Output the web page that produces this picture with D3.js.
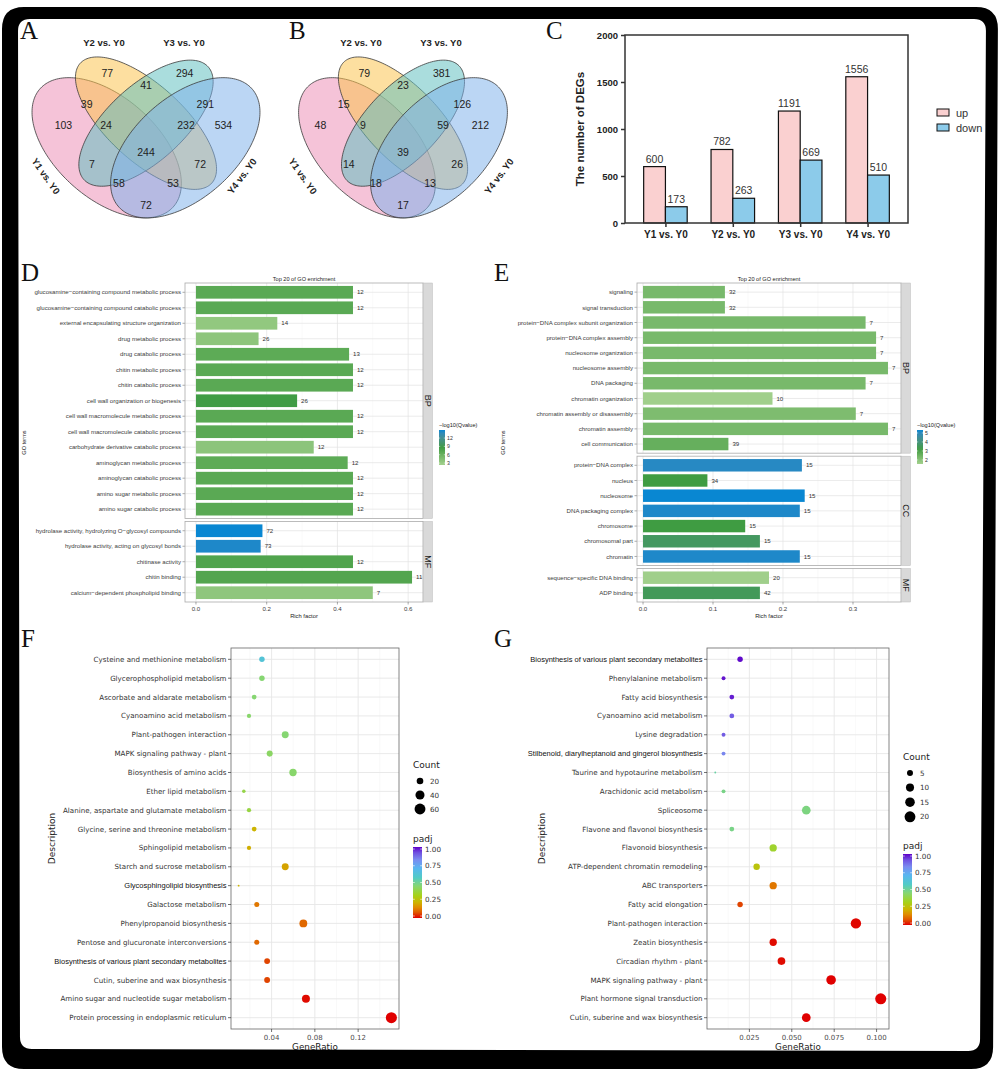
<!DOCTYPE html>
<html>
<head>
<meta charset="utf-8">
<script src="https://cdn.jsdelivr.net/npm/d3@7/dist/d3.min.js"></script>
<style>
  body { margin: 0; background: #fff; }
  svg { display: block; }
</style>
</head>
<body>
<svg id="fig"></svg>
<script>
// ---------- Données ----------

// A / B : diagrammes de Venn
const vennSets = ["Y1 vs. Y0", "Y2 vs. Y0", "Y3 vs. Y0", "Y4 vs. Y0"];
const vennKeys = ["2", "3", "23", "12", "34", "1", "123", "234", "4", "1234", "13", "24", "134", "124", "14"];
const vennCountsA = [77, 294, 41, 39, 291, 103, 24, 232, 534, 244, 7, 72, 58, 53, 72];
const vennCountsB = [79, 381, 23, 15, 126, 48, 9, 59, 212, 39, 14, 26, 18, 13, 17];

// C : nombre de DEGs
const degGroups = ["Y1 vs. Y0", "Y2 vs. Y0", "Y3 vs. Y0", "Y4 vs. Y0"];
const degUp = [600, 782, 1191, 1556];
const degDown = [173, 263, 669, 510];
const degTicks = [0, 500, 1000, 1500, 2000];

// D : GO enrichment
const goDTerms = [
  "glucosamine\u2212containing compound metabolic process",
  "glucosamine\u2212containing compound catabolic process",
  "external encapsulating structure organization",
  "drug metabolic process",
  "drug catabolic process",
  "chitin metabolic process",
  "chitin catabolic process",
  "cell wall organization or biogenesis",
  "cell wall macromolecule metabolic process",
  "cell wall macromolecule catabolic process",
  "carbohydrate derivative catabolic process",
  "aminoglycan metabolic process",
  "aminoglycan catabolic process",
  "amino sugar metabolic process",
  "amino sugar catabolic process",
  "hydrolase activity, hydrolyzing O\u2212glycosyl compounds",
  "hydrolase activity, acting on glycosyl bonds",
  "chitinase activity",
  "chitin binding",
  "calcium\u2212dependent phospholipid binding"
];
const goDOnto = ["BP", "BP", "BP", "BP", "BP", "BP", "BP", "BP", "BP", "BP", "BP", "BP", "BP", "BP", "BP",
  "MF", "MF", "MF", "MF", "MF"];
const goDRich = [0.444, 0.444, 0.230, 0.177, 0.433, 0.444, 0.444, 0.286, 0.444, 0.444, 0.333, 0.429, 0.444, 0.444, 0.444,
  0.188, 0.183, 0.444, 0.611, 0.500];
const goDCount = [12, 12, 14, 26, 13, 12, 12, 26, 12, 12, 12, 12, 12, 12, 12, 72, 73, 12, 11, 7];
const goDQ = [7, 7, 3.4, 3.7, 6.8, 7, 7, 8.6, 7, 7, 3.8, 6.8, 7, 7, 7, 14.9, 14.5, 7.6, 7.4, 3.6];
const goDTicks = [3, 6, 9, 12];

// E : GO enrichment
const goETerms = [
  "signaling", "signal transduction", "protein\u2212DNA complex subunit organization",
  "protein\u2212DNA complex assembly", "nucleosome organization", "nucleosome assembly",
  "DNA packaging", "chromatin organization", "chromatin assembly or disassembly",
  "chromatin assembly", "cell communication",
  "protein\u2212DNA complex", "nucleus", "nucleosome", "DNA packaging complex",
  "chromosome", "chromosomal part", "chromatin",
  "sequence\u2212specific DNA binding", "ADP binding"
];
const goEOnto = ["BP", "BP", "BP", "BP", "BP", "BP", "BP", "BP", "BP", "BP", "BP",
  "CC", "CC", "CC", "CC", "CC", "CC", "CC", "MF", "MF"];
const goERich = [0.117, 0.117, 0.318, 0.333, 0.333, 0.350, 0.318, 0.185, 0.304, 0.350, 0.122,
  0.227, 0.092, 0.231, 0.224, 0.146, 0.167, 0.224, 0.180, 0.167];
const goECount = [32, 32, 7, 7, 7, 7, 7, 10, 7, 7, 39, 15, 34, 15, 15, 15, 15, 15, 20, 42];
const goEQ = [2.3, 2.3, 2.3, 2.3, 2.3, 2.3, 2.3, 1.6, 2.2, 2.3, 2.6,
  5.1, 3.2, 5.33, 5.2, 3.2, 3.6, 5.2, 1.6, 3.5];
const goETicks = [2, 3, 4, 5];

// F : KEGG
const keggFTerms = [
  "Cysteine and methionine metabolism", "Glycerophospholipid metabolism",
  "Ascorbate and aldarate metabolism", "Cyanoamino acid metabolism",
  "Plant-pathogen interaction", "MAPK signaling pathway - plant",
  "Biosynthesis of amino acids", "Ether lipid metabolism",
  "Alanine, aspartate and glutamate metabolism", "Glycine, serine and threonine metabolism",
  "Sphingolipid metabolism", "Starch and sucrose metabolism",
  "Glycosphingolipid biosynthesis", "Galactose metabolism",
  "Phenylpropanoid biosynthesis", "Pentose and glucuronate interconversions",
  "Biosynthesis of various plant secondary metabolites", "Cutin, suberine and wax biosynthesis",
  "Amino sugar and nucleotide sugar metabolism", "Protein processing in endoplasmic reticulum"
];
const keggFRatio = ["13/418", "13/418", "10/418", "8/418", "22/418", "16/418", "25/418", "6/418", "8/418", "10/418",
  "8/418", "22/418", "4/418", "11/418", "29/418", "11/418", "15/418", "15/418", "30/418", "63/418"];
const keggFPadj = [0.62, 0.45, 0.45, 0.44, 0.45, 0.43, 0.44, 0.39, 0.38, 0.22,
  0.21, 0.19, 0.22, 0.12, 0.10, 0.10, 0.06, 0.06, 0.01, 0.0];
const keggFTicks = [0.04, 0.08, 0.12];
const keggFSizeBreaks = [20, 40, 60];

// G : KEGG
const keggGTerms = [
  "Biosynthesis of various plant secondary metabolites", "Phenylalanine metabolism",
  "Fatty acid biosynthesis", "Cyanoamino acid metabolism", "Lysine degradation",
  "Stilbenoid, diarylheptanoid and gingerol biosynthesis", "Taurine and hypotaurine metabolism",
  "Arachidonic acid metabolism", "Spliceosome", "Flavone and flavonol biosynthesis",
  "Flavonoid biosynthesis", "ATP-dependent chromatin remodeling", "ABC transporters",
  "Fatty acid elongation", "Plant-pathogen interaction", "Zeatin biosynthesis",
  "Circadian rhythm - plant", "MAPK signaling pathway - plant",
  "Plant hormone signal transduction", "Cutin, suberine and wax biosynthesis"
];
const keggGRatio = ["4/205", "2/205", "3/205", "3/205", "2/205", "2/205", "1/205", "2/205", "12/205", "3/205",
  "8/205", "6/205", "8/205", "4/205", "18/205", "8/205", "9/205", "15/205", "21/205", "12/205"];
const keggGPadj = [0.99, 0.98, 0.97, 0.9, 0.9, 0.83, 0.52, 0.48, 0.47, 0.48,
  0.35, 0.27, 0.12, 0.06, 0.005, 0.01, 0.01, 0.0, 0.0, 0.0];
const keggGTicks = [0.025, 0.05, 0.075, 0.1];
const keggGSizeBreaks = [5, 10, 15, 20];
const padjTicks = [0, 0.25, 0.5, 0.75, 1];

// ---------- Mise en page ----------
const W = 1000, H = 1072;
const SANS = "'Liberation Sans', Arial, sans-serif";
const DEJAVU = "'DejaVu Sans', sans-serif";
const SERIF = "'Liberation Serif', 'Times New Roman', serif";

const svg = d3.select("#fig").attr("width", W).attr("height", H);
const defs = svg.append("defs");
svg.append("rect").attr("width", W).attr("height", H).attr("fill", "#fff");

function panelLetter(t, x, y) {
  svg.append("text").attr("x", x).attr("y", y)
    .attr("font-family", SERIF).attr("font-size", 25).attr("fill", "#111").text(t);
}

// ---------- A / B ----------
const vennEllipses = [
  { cx: 0.35, cy: 0.47, a: 0.35, b: 0.20, rot: 135, fill: "#ec8db5" },
  { cx: 0.50, cy: 0.57, a: 0.35, b: 0.15, rot: 135, fill: "#fcc34c" },
  { cx: 0.50, cy: 0.57, a: 0.33, b: 0.15, rot: 45, fill: "#5ebfbe" },
  { cx: 0.65, cy: 0.47, a: 0.35, b: 0.20, rot: 45, fill: "#7fb1ea" }
];
const vennLabelPos = {
  "2": [0.35, 0.774], "3": [0.65, 0.774], "23": [0.5, 0.725], "12": [0.27, 0.648], "34": [0.73, 0.648],
  "1": [0.18, 0.563], "123": [0.345, 0.563], "234": [0.655, 0.563], "4": [0.80, 0.563], "1234": [0.5, 0.453],
  "13": [0.29, 0.404], "24": [0.71, 0.404], "134": [0.395, 0.327], "124": [0.605, 0.327], "14": [0.5, 0.237]
};
const vennSetPos = [[0.112, 0.355, 55], [0.337, 0.896, 0], [0.647, 0.896, 0], [0.872, 0.355, -53]];

function drawVenn(counts, ox, ellSx) {
  const g = svg.append("g");
  const sy = 246, oy = 140.4, labSx = 258;
  const ex = d3.scaleLinear().domain([0, 1]).range([ox - ellSx / 2, ox + ellSx / 2]);
  const ey = d3.scaleLinear().domain([0, 1]).range([oy + sy / 2, oy - sy / 2]);
  const lx = d3.scaleLinear().domain([0, 1]).range([ox - labSx / 2, ox + labSx / 2]);
  const line = d3.line().x(p => ex(p[0])).y(p => ey(p[1])).curve(d3.curveLinearClosed);

  g.selectAll("path").data(vennEllipses).join("path")
    .attr("d", e => {
      const th = e.rot * Math.PI / 180;
      const pts = d3.range(0, 2 * Math.PI, Math.PI / 90).map(t => [
        e.cx + e.a * Math.cos(t) * Math.cos(th) - e.b * Math.sin(t) * Math.sin(th),
        e.cy + e.a * Math.cos(t) * Math.sin(th) + e.b * Math.sin(t) * Math.cos(th)
      ]);
      return line(pts);
    })
    .attr("fill", e => e.fill).attr("fill-opacity", 0.53)
    .attr("stroke", "#3a3a3a").attr("stroke-width", 0.8);

  g.selectAll(".count").data(vennKeys).join("text")
    .attr("x", k => lx(vennLabelPos[k][0]))
    .attr("y", k => ey(vennLabelPos[k][1]))
    .attr("dy", "0.36em").attr("text-anchor", "middle")
    .attr("font-family", SANS).attr("font-size", 10.5).attr("fill", "#222")
    .text((k, i) => counts[i]);

  g.selectAll(".set").data(vennSets).join("text")
    .attr("transform", (s, i) => `translate(${lx(vennSetPos[i][0])},${ey(vennSetPos[i][1])}) rotate(${vennSetPos[i][2]})`)
    .attr("dy", "0.36em").attr("text-anchor", "middle")
    .attr("font-family", SANS).attr("font-weight", "bold").attr("font-size", 9.5).attr("fill", "#222")
    .text(s => s);
}

drawVenn(vennCountsA, 146, 262);
drawVenn(vennCountsB, 403, 240);
panelLetter("A", 20, 39);
panelLetter("B", 289, 39);

// ---------- C ----------
function drawDegBars() {
  const g = svg.append("g");
  const x = d3.scalePoint().domain(degGroups).range([625, 908]).padding(0.6);
  const y = d3.scaleLinear().domain([0, 2000]).range([223, 35]);
  const bw = x.step() * 0.323;
  const series = [
    { name: "up", values: degUp, fill: "#fad0d0", off: -bw },
    { name: "down", values: degDown, fill: "#8ccbea", off: 0 }
  ];
  series.forEach(s => {
    g.selectAll(null).data(degGroups).join("rect")
      .attr("x", d => x(d) + s.off).attr("width", bw)
      .attr("y", (d, i) => y(s.values[i])).attr("height", (d, i) => y(0) - y(s.values[i]))
      .attr("fill", s.fill).attr("stroke", "#111").attr("stroke-width", 1.2);
    g.selectAll(null).data(degGroups).join("text")
      .attr("x", d => x(d) + s.off + bw / 2).attr("y", (d, i) => y(s.values[i]) - 4)
      .attr("text-anchor", "middle").attr("font-family", SANS).attr("font-size", 10.5).attr("fill", "#333")
      .text((d, i) => s.values[i]);
  });
  g.append("rect").attr("x", 625).attr("y", 35).attr("width", 283).attr("height", 188)
    .attr("fill", "none").attr("stroke", "#333").attr("stroke-width", 1.5);

  const yAxis = g.append("g").attr("transform", "translate(625,0)")
    .call(d3.axisLeft(y).tickValues(degTicks).tickSize(4).tickFormat(d3.format("d")));
  const xAxis = g.append("g").attr("transform", "translate(0,223)")
    .call(d3.axisBottom(x).tickSize(4).tickPadding(4));
  [yAxis, xAxis].forEach(a => {
    a.select(".domain").remove();
    a.selectAll("line").attr("stroke", "#333").attr("stroke-width", 1.5);
    a.selectAll("text").attr("font-family", SANS).attr("font-weight", "bold").attr("font-size", 10).attr("fill", "#222");
  });
  yAxis.selectAll("text").attr("font-size", 9.5);

  g.append("text").attr("transform", "translate(584,129) rotate(-90)")
    .attr("text-anchor", "middle").attr("font-family", SANS).attr("font-weight", "bold")
    .attr("font-size", 11.5).attr("fill", "#222").text("The number of DEGs");

  series.forEach((s, i) => {
    g.append("rect").attr("x", 937).attr("y", 109 + i * 15).attr("width", 12).attr("height", 7)
      .attr("fill", s.fill).attr("stroke", "#111").attr("stroke-width", 1);
    g.append("text").attr("x", 956).attr("y", 116.5 + i * 15)
      .attr("font-family", SANS).attr("font-size", 11).attr("fill", "#333").text(s.name);
  });
}
drawDegBars();
panelLetter("C", 546, 39);

// ---------- D / E ----------
function drawGo(cfg) {
  const g = svg.append("g");
  const x = d3.scaleLinear().domain(cfg.domain).range([cfg.x0, cfg.x1]);
  const groups = Array.from(new Set(cfg.onto));
  const nTot = d3.sum(groups, gn => cfg.onto.filter(o => o === gn).length + 0.2);
  const step = (cfg.y1 - cfg.y0 - cfg.gap * (groups.length - 1)) / nTot;
  const color = d3.scaleLinear().domain(cfg.qStops)
    .range(["#a3d18d", "#3f9c42", "#0987d2"]).interpolate(d3.interpolateLab).clamp(true);
  const fs = 6.1;
  let cursor = cfg.y0;

  groups.forEach(gn => {
    const idx = d3.range(cfg.terms.length).filter(i => cfg.onto[i] === gn);
    const h = (idx.length + 0.2) * step;
    const top = cursor;
    const yb = d3.scaleBand().domain(idx).range([top, top + h]).paddingInner(0.18).paddingOuter(0.19);
    const cy = i => yb(i) + yb.bandwidth() / 2;

    g.append("rect").attr("x", cfg.x0).attr("y", top).attr("width", cfg.x1 - cfg.x0).attr("height", h).attr("fill", "#fff");
    g.selectAll(null).data(cfg.minors).join("line")
      .attr("x1", d => x(d)).attr("x2", d => x(d)).attr("y1", top).attr("y2", top + h)
      .attr("stroke", "#f0f0f0").attr("stroke-width", 0.4);
    g.selectAll(null).data(cfg.majors).join("line")
      .attr("x1", d => x(d)).attr("x2", d => x(d)).attr("y1", top).attr("y2", top + h)
      .attr("stroke", "#e2e2e2").attr("stroke-width", 0.7);
    g.selectAll(null).data(idx).join("line")
      .attr("x1", cfg.x0).attr("x2", cfg.x1).attr("y1", cy).attr("y2", cy)
      .attr("stroke", "#e2e2e2").attr("stroke-width", 0.7);

    g.selectAll(null).data(idx).join("rect")
      .attr("x", x(0)).attr("y", i => yb(i)).attr("height", yb.bandwidth())
      .attr("width", i => x(cfg.rich[i]) - x(0)).attr("fill", i => color(cfg.q[i]));
    g.selectAll(null).data(idx).join("text")
      .attr("x", i => x(cfg.rich[i]) + 4).attr("y", cy).attr("dy", "0.36em")
      .attr("font-family", SANS).attr("font-size", fs).attr("fill", "#333").text(i => cfg.count[i]);

    g.selectAll(null).data(idx).join("line")
      .attr("x1", cfg.x0 - 2.5).attr("x2", cfg.x0).attr("y1", cy).attr("y2", cy)
      .attr("stroke", "#555").attr("stroke-width", 0.5);
    g.selectAll(null).data(idx).join("text")
      .attr("x", cfg.x0 - 4).attr("y", cy).attr("dy", "0.36em").attr("text-anchor", "end")
      .attr("font-family", SANS).attr("font-size", fs).attr("fill", "#3c3c3c").text(i => cfg.terms[i]);

    g.append("rect").attr("x", cfg.x0).attr("y", top).attr("width", cfg.x1 - cfg.x0).attr("height", h)
      .attr("fill", "none").attr("stroke", "#aaa").attr("stroke-width", 0.8);
    g.append("rect").attr("x", cfg.x1 + 0.5).attr("y", top).attr("width", 9).attr("height", h)
      .attr("fill", "#d9d9d9").attr("stroke", "#bbb").attr("stroke-width", 0.5);
    g.append("text").attr("transform", `translate(${cfg.x1 + 5},${top + h / 2}) rotate(90)`)
      .attr("text-anchor", "middle").attr("dy", "0.36em")
      .attr("font-family", SANS).attr("font-size", 9).attr("fill", "#1a1a1a").text(gn);
    cursor += h + cfg.gap;
  });

  const bottom = cfg.y1;
  g.selectAll(null).data(cfg.majors).join("line")
    .attr("x1", d => x(d)).attr("x2", d => x(d)).attr("y1", bottom).attr("y2", bottom + 2.5)
    .attr("stroke", "#555").attr("stroke-width", 0.5);
  g.selectAll(null).data(cfg.majors).join("text")
    .attr("x", d => x(d)).attr("y", bottom + 9).attr("text-anchor", "middle")
    .attr("font-family", SANS).attr("font-size", fs).attr("fill", "#3c3c3c").text(d3.format(".1f"));
  const mid = (cfg.x0 + cfg.x1) / 2;
  g.append("text").attr("x", mid).attr("y", bottom + 16).attr("text-anchor", "middle")
    .attr("font-family", SANS).attr("font-size", 5.8).attr("fill", "#222").text("Rich factor");
  g.append("text").attr("x", mid).attr("y", cfg.y0 - 2.5).attr("text-anchor", "middle")
    .attr("font-family", SANS).attr("font-size", 5.6).attr("fill", "#222").text("Top 20 of GO enrichment");
  g.append("text").attr("transform", `translate(${cfg.yTitleX},${(cfg.y0 + cfg.y1) / 2}) rotate(-90)`)
    .attr("text-anchor", "middle").attr("font-family", SANS).attr("font-size", 5.6).attr("fill", "#222").text("GO terms");

  // légende
  const qmin = cfg.qStops[0], qmax = cfg.qStops[2];
  const ly = d3.scaleLinear().domain([qmin, qmax]).range([cfg.legY1, cfg.legY0]);
  const grad = defs.append("linearGradient").attr("id", cfg.id).attr("x1", 0).attr("y1", 1).attr("x2", 0).attr("y2", 0);
  grad.selectAll("stop").data(d3.range(0, 1.0001, 0.1)).join("stop")
    .attr("offset", t => t).attr("stop-color", t => color(qmin + t * (qmax - qmin)));
  g.append("text").attr("x", cfg.legX).attr("y", cfg.legY0 - 3)
    .attr("font-family", SANS).attr("font-size", 5.6).attr("fill", "#222").text("\u2212log10(Qvalue)");
  g.append("rect").attr("x", cfg.legX).attr("y", cfg.legY0).attr("width", 6).attr("height", cfg.legY1 - cfg.legY0)
    .attr("fill", `url(#${cfg.id})`);
  g.selectAll(null).data(cfg.qTicks).join("line")
    .attr("x1", cfg.legX).attr("x2", cfg.legX + 1.2).attr("y1", d => ly(d)).attr("y2", d => ly(d))
    .attr("stroke", "#fff").attr("stroke-width", 0.5);
  g.selectAll(null).data(cfg.qTicks).join("line")
    .attr("x1", cfg.legX + 4.8).attr("x2", cfg.legX + 6).attr("y1", d => ly(d)).attr("y2", d => ly(d))
    .attr("stroke", "#fff").attr("stroke-width", 0.5);
  g.selectAll(null).data(cfg.qTicks).join("text")
    .attr("x", cfg.legX + 8).attr("y", d => ly(d)).attr("dy", "0.36em")
    .attr("font-family", SANS).attr("font-size", 5.2).attr("fill", "#333").text(d => d);
}

drawGo({
  id: "gradD", terms: goDTerms, onto: goDOnto, rich: goDRich, count: goDCount, q: goDQ,
  x0: 185, x1: 423, y0: 283, y1: 602, gap: 3, domain: [-0.031, 0.642],
  majors: [0, 0.2, 0.4, 0.6], minors: [0.1, 0.3, 0.5],
  qStops: [2.3, 8.5, 14.9], qTicks: goDTicks, legX: 439, legY0: 430, legY1: 465, yTitleX: 26
});
drawGo({
  id: "gradE", terms: goETerms, onto: goEOnto, rich: goERich, count: goECount, q: goEQ,
  x0: 637, x1: 901, y0: 283, y1: 602, gap: 3, domain: [-0.0086, 0.3686],
  majors: [0, 0.1, 0.2, 0.3], minors: [0.05, 0.15, 0.25, 0.35],
  qStops: [1.55, 3.2, 5.33], qTicks: goETicks, legX: 917, legY0: 430, legY1: 464, yTitleX: 505
});
panelLetter("D", 21, 281);
panelLetter("E", 494, 281);

// ---------- F / G ----------
const padjStops = [[0, "#e00000"], [0.08, "#e05a00"], [0.15, "#e08c00"], [0.22, "#cdb400"], [0.32, "#a6d21a"],
  [0.45, "#86d672"], [0.57, "#52cbc6"], [0.7, "#58b6f0"], [0.82, "#7a8cf0"], [0.92, "#7050e0"], [1, "#5e00c8"]];
const padjColor = d3.scaleLinear().domain(padjStops.map(d => d[0])).range(padjStops.map(d => d[1])).clamp(true);
const arialLabels = new Set(["Glycosphingolipid biosynthesis", "Biosynthesis of various plant secondary metabolites",
  "Stilbenoid, diarylheptanoid and gingerol biosynthesis"]);

function drawDot(cfg) {
  const g = svg.append("g");
  const parsed = cfg.ratio.map(s => { const [k, n] = s.split("/").map(Number); return { k, r: k / n }; });
  const ext = d3.extent(parsed, d => d.r);
  const pad = 0.05 * (ext[1] - ext[0]);
  const x = d3.scaleLinear().domain([ext[0] - pad, ext[1] + pad]).range([cfg.x0, cfg.x1]);
  const y = d3.scalePoint().domain(d3.range(cfg.terms.length)).range([cfg.y0, cfg.y1]).padding(0.6);
  const kExt = d3.extent(parsed, d => d.k);
  const norm = d3.scaleLinear().domain(kExt).range([0, 1]).clamp(true);
  const rad = k => 0.925 * (1 + 5 * Math.sqrt(norm(k)));

  const tstep = cfg.ticks[1] - cfg.ticks[0];
  const minors = d3.range(cfg.ticks[0] - tstep / 2, x.domain()[1], tstep).filter(v => v > x.domain()[0]);
  g.append("rect").attr("x", cfg.x0).attr("y", cfg.y0).attr("width", cfg.x1 - cfg.x0).attr("height", cfg.y1 - cfg.y0).attr("fill", "#fff");
  g.selectAll(null).data(minors).join("line")
    .attr("x1", d => x(d)).attr("x2", d => x(d)).attr("y1", cfg.y0).attr("y2", cfg.y1)
    .attr("stroke", "#f3f3f3").attr("stroke-width", 0.5);
  g.selectAll(null).data(cfg.ticks).join("line")
    .attr("x1", d => x(d)).attr("x2", d => x(d)).attr("y1", cfg.y0).attr("y2", cfg.y1)
    .attr("stroke", "#e6e6e6").attr("stroke-width", 0.9);
  g.selectAll(null).data(y.domain()).join("line")
    .attr("x1", cfg.x0).attr("x2", cfg.x1).attr("y1", d => y(d)).attr("y2", d => y(d))
    .attr("stroke", "#e6e6e6").attr("stroke-width", 0.9);

  g.selectAll(null).data(parsed).join("circle")
    .attr("cx", d => x(d.r)).attr("cy", (d, i) => y(i)).attr("r", d => rad(d.k))
    .attr("fill", (d, i) => padjColor(cfg.padj[i]));

  g.append("rect").attr("x", cfg.x0).attr("y", cfg.y0).attr("width", cfg.x1 - cfg.x0).attr("height", cfg.y1 - cfg.y0)
    .attr("fill", "none").attr("stroke", "#666").attr("stroke-width", 0.8);

  g.selectAll(null).data(y.domain()).join("line")
    .attr("x1", cfg.x0 - 3).attr("x2", cfg.x0).attr("y1", d => y(d)).attr("y2", d => y(d))
    .attr("stroke", "#333").attr("stroke-width", 0.7);
  g.selectAll(null).data(cfg.terms).join("text")
    .attr("x", cfg.x0 - 4.5).attr("y", (d, i) => y(i)).attr("dy", "0.36em").attr("text-anchor", "end")
    .attr("font-family", d => arialLabels.has(d) ? SANS : DEJAVU)
    .attr("font-size", d => arialLabels.has(d) ? 7.5 : 7.1)
    .attr("fill", d => arialLabels.has(d) ? "#111" : "#333").text(d => d);

  g.selectAll(null).data(cfg.ticks).join("line")
    .attr("x1", d => x(d)).attr("x2", d => x(d)).attr("y1", cfg.y1).attr("y2", cfg.y1 + 3)
    .attr("stroke", "#333").attr("stroke-width", 0.7);
  g.selectAll(null).data(cfg.ticks).join("text")
    .attr("x", d => x(d)).attr("y", cfg.y1 + 11).attr("text-anchor", "middle")
    .attr("font-family", DEJAVU).attr("font-size", 7).attr("fill", "#4d4d4d").text(cfg.fmt);
  g.append("text").attr("x", (cfg.x0 + cfg.x1) / 2).attr("y", cfg.y1 + 21).attr("text-anchor", "middle")
    .attr("font-family", DEJAVU).attr("font-size", 8.8).attr("fill", "#222").text("GeneRatio");
  g.append("text").attr("transform", `translate(${cfg.yTitleX},${(cfg.y0 + cfg.y1) / 2}) rotate(-90)`)
    .attr("text-anchor", "middle").attr("font-family", DEJAVU).attr("font-size", 9).attr("fill", "#222").text("Description");

  // légende taille
  const lx = cfg.legX;
  g.append("text").attr("x", lx).attr("y", cfg.countY).attr("font-family", DEJAVU).attr("font-size", 9)
    .attr("fill", "#222").text("Count");
  g.selectAll(null).data(cfg.sizeBreaks).join("circle")
    .attr("cx", lx + 7).attr("cy", (d, i) => cfg.countY + 13 + i * cfg.countStep).attr("r", d => rad(d))
    .attr("fill", "#000");
  g.selectAll(null).data(cfg.sizeBreaks).join("text")
    .attr("x", lx + 17).attr("y", (d, i) => cfg.countY + 13 + i * cfg.countStep).attr("dy", "0.36em")
    .attr("font-family", DEJAVU).attr("font-size", 7.2).attr("fill", "#333").text(d => d);

  // légende padj
  const py = d3.scaleLinear().domain([0, 1]).range([cfg.barY1, cfg.barY0]);
  const grad = defs.append("linearGradient").attr("id", cfg.id).attr("x1", 0).attr("y1", 1).attr("x2", 0).attr("y2", 0);
  grad.selectAll("stop").data(padjStops).join("stop")
    .attr("offset", d => d[0]).attr("stop-color", d => d[1]);
  g.append("text").attr("x", lx).attr("y", cfg.barY0 - 7).attr("font-family", DEJAVU).attr("font-size", 9)
    .attr("fill", "#222").text("padj");
  g.append("rect").attr("x", lx).attr("y", cfg.barY0 - 2).attr("width", 9).attr("height", cfg.barY1 - cfg.barY0 + 4)
    .attr("fill", `url(#${cfg.id})`);
  g.selectAll(null).data(padjTicks).join("line")
    .attr("x1", lx).attr("x2", lx + 1.8).attr("y1", d => py(d)).attr("y2", d => py(d))
    .attr("stroke", "#fff").attr("stroke-width", 0.6);
  g.selectAll(null).data(padjTicks).join("line")
    .attr("x1", lx + 7.2).attr("x2", lx + 9).attr("y1", d => py(d)).attr("y2", d => py(d))
    .attr("stroke", "#fff").attr("stroke-width", 0.6);
  g.selectAll(null).data(padjTicks).join("text")
    .attr("x", lx + 12).attr("y", d => py(d)).attr("dy", "0.36em")
    .attr("font-family", DEJAVU).attr("font-size", 7.2).attr("fill", "#333").text(d3.format(".2f"));
}

drawDot({
  id: "gradF", terms: keggFTerms, ratio: keggFRatio, padj: keggFPadj, ticks: keggFTicks, fmt: d3.format(".2f"),
  x0: 231, x1: 399, y0: 648, y1: 1029, yTitleX: 55, sizeBreaks: keggFSizeBreaks,
  legX: 413, countY: 768, countStep: 14, barY0: 849, barY1: 916
});
drawDot({
  id: "gradG", terms: keggGTerms, ratio: keggGRatio, padj: keggGPadj, ticks: keggGTicks, fmt: d3.format(".3f"),
  x0: 707, x1: 889, y0: 648, y1: 1029, yTitleX: 545, sizeBreaks: keggGSizeBreaks,
  legX: 903, countY: 760, countStep: 14.6, barY0: 856, barY1: 923
});
panelLetter("F", 21, 647);
panelLetter("G", 494, 647);

// ---------- Cadre ----------
function roundedPoly(pts, r) {
  const n = pts.length;
  let d = "";
  pts.forEach((p, i) => {
    const a = pts[(i + n - 1) % n], b = pts[(i + 1) % n];
    const la = Math.hypot(a[0] - p[0], a[1] - p[1]), lb = Math.hypot(b[0] - p[0], b[1] - p[1]);
    const s = [p[0] + (a[0] - p[0]) * r / la, p[1] + (a[1] - p[1]) * r / la];
    const e = [p[0] + (b[0] - p[0]) * r / lb, p[1] + (b[1] - p[1]) * r / lb];
    d += (i ? "L" : "M") + s.join(",") + "Q" + p.join(",") + " " + e.join(",");
  });
  return d + "Z";
}
const outerFrame = [[2, 7], [998, 7], [993, 1069], [2, 1069]];
const innerFrame = [[18, 19], [986, 19], [980, 1051], [20, 1049]];
svg.append("path")
  .attr("d", roundedPoly(outerFrame, 22) + roundedPoly(innerFrame, 12))
  .attr("fill", "#000").attr("fill-rule", "evenodd");
</script>
</body>
</html>
